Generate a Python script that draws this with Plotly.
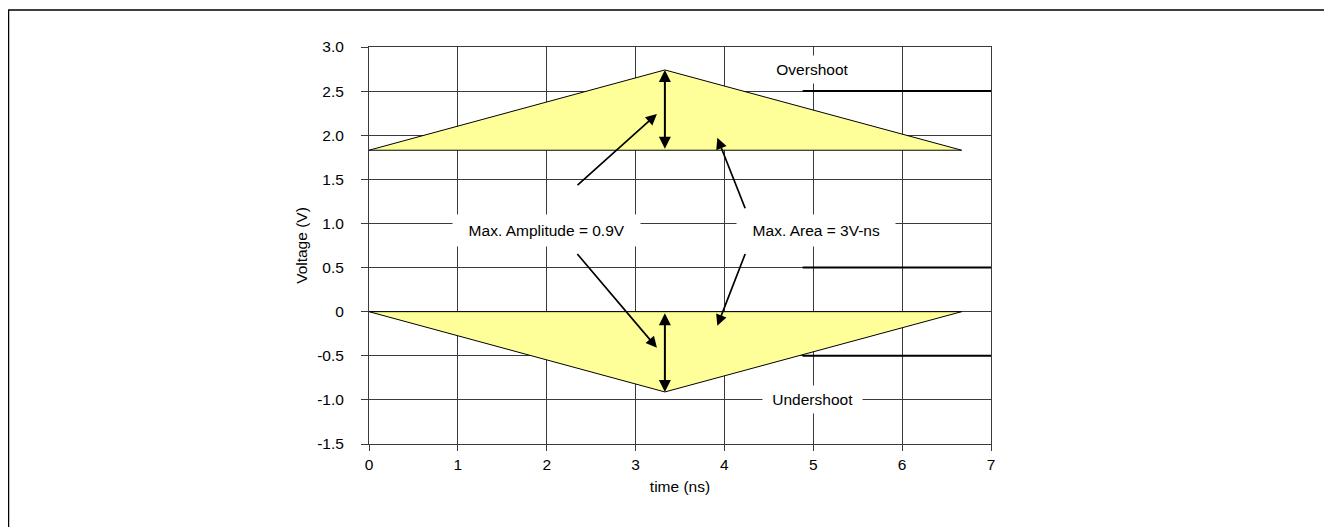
import plotly.graph_objects as go

# ---- data ----
t_shape = [0, 3.33, 6.67, 0]
over_v = [1.83, 2.74, 1.83, 1.83]
under_v = [0, -0.91, 0, 0]
y_ticks = [3.0, 2.5, 2.0, 1.5, 1.0, 0.5, 0, -0.5, -1.0, -1.5]
y_ticklabels = ["3.0", "2.5", "2.0", "1.5", "1.0", "0.5", "0", "-0.5", "-1.0", "-1.5"]
x_ticks = [0, 1, 2, 3, 4, 5, 6, 7]
dark_seg_y = [2.5, 0.5, -0.5]
dark_seg_x = [4.88, 7]
peak_t = 3.33
vdd = 1.83
vss = 0.0

FONT = "Liberation Sans, Arial, sans-serif"
FS = 15.5
fig = go.Figure()

fig.add_trace(go.Scatter(x=t_shape, y=over_v, mode="lines", fill="toself",
                         fillcolor="#FFFF99", line=dict(color="black", width=1),
                         hoverinfo="skip", showlegend=False))
fig.add_trace(go.Scatter(x=t_shape, y=under_v, mode="lines", fill="toself",
                         fillcolor="#FFFF99", line=dict(color="black", width=1),
                         hoverinfo="skip", showlegend=False))
for yy in dark_seg_y:
    fig.add_trace(go.Scatter(x=dark_seg_x, y=[yy, yy], mode="lines",
                             line=dict(color="black", width=2),
                             hoverinfo="skip", showlegend=False))

ann = []
for (y0, y1) in [(vdd, over_v[1]), (vss, under_v[1])]:
    ann.append(dict(x=peak_t, y=y1, ax=peak_t, ay=y0, xref="x", yref="y",
                    axref="x", ayref="y", showarrow=True, arrowhead=2,
                    startarrowhead=2, arrowside="end+start", arrowsize=1.2,
                    startarrowsize=1.2, arrowwidth=2, arrowcolor="black", text=""))
diag = [((3.24, 2.24), (2.33, 1.42)), ((3.24, -0.41), (2.33, 0.67)),
        ((3.92, 1.97), (4.24, 1.155)), ((3.92, -0.16), (4.24, 0.67))]
for (hx, hy), (tx, ty) in diag:
    ann.append(dict(x=hx, y=hy, ax=tx, ay=ty, xref="x", yref="y",
                    axref="x", ayref="y", showarrow=True, arrowhead=2,
                    arrowsize=1.3, arrowwidth=1.7, arrowcolor="black", text=""))

def label(x, y, text, bg=True, pad=8):
    return dict(x=x, y=y, xref="x", yref="y", text=text, showarrow=False,
                font=dict(family=FONT, size=FS, color="black"),
                bgcolor="white" if bg else None, borderpad=pad)

ann.append(label(2.0, 0.92, "&nbsp;&nbsp;Max. Amplitude = 0.9V&nbsp;&nbsp;", pad=7))
ann.append(label(5.03, 0.92, "&nbsp;&nbsp;Max. Area = 3V-ns&nbsp;&nbsp;", pad=7))
ann.append(label(4.99, 2.74, "&nbsp;Overshoot&nbsp;", pad=5))
ann.append(label(4.99, -0.99, "&nbsp;Undershoot&nbsp;", pad=5))
ann.append(label(7.29, vdd, "VDD", bg=False))
ann.append(label(7.29, vss, "VSS", bg=False))

# page body adds an 8px offset; compensate in margins
L, T = 361, 39
W, H = 622, 397.5
fig.update_layout(
    width=1332, height=527,
    margin=dict(l=L, r=1332 - L - W, t=T, b=527 - T - H),
    paper_bgcolor="white", plot_bgcolor="white",
    font=dict(family=FONT, size=FS, color="black"),
    annotations=ann,
    shapes=[dict(type="rect", xref="paper", yref="paper",
                 x0=(0.5 - L) / W, x1=(1322 - L) / W,
                 y0=-(527 - T - H + 20) / H, y1=1 + (T - 2) / H,
                 line=dict(color="black", width=1.5), layer="below")],
    xaxis=dict(range=[0, 7], tickvals=x_ticks, showgrid=True, gridcolor="#3a3a3a",
               gridwidth=1, zeroline=False, showline=True, linecolor="#3a3a3a",
               mirror=True, ticks="outside", ticklen=6, tickcolor="#3a3a3a",
               title=dict(text="time (ns)", font=dict(size=FS), standoff=9),
               tickfont=dict(size=FS)),
    yaxis=dict(range=[-1.5, 3.0], tickvals=y_ticks, ticktext=y_ticklabels,
               showgrid=True, gridcolor="#3a3a3a", gridwidth=1, zeroline=False,
               showline=True, linecolor="#3a3a3a", mirror=True, ticks="outside",
               ticklen=7, tickcolor="#3a3a3a", ticklabelstandoff=14,
               title=dict(text="Voltage (V)", font=dict(size=FS), standoff=5),
               tickfont=dict(size=FS)),
)

fig.write_html("out.html")
